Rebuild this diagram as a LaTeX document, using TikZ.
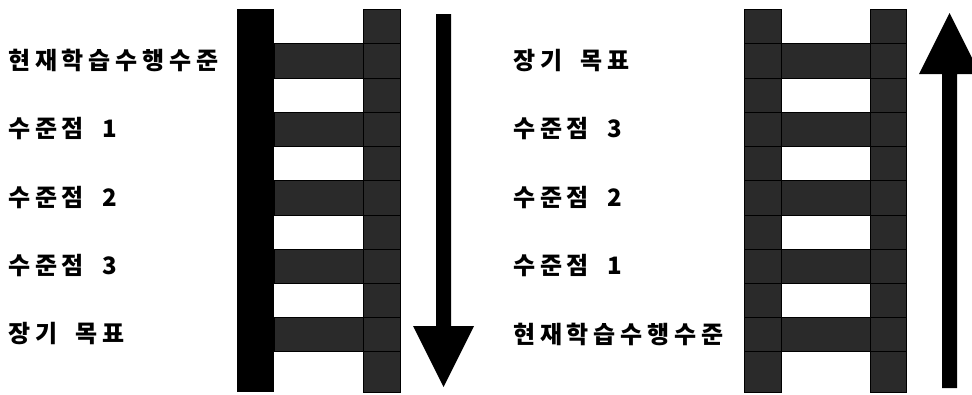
\documentclass[tikz,border=0pt]{standalone}
\usepackage{fontspec}
\newfontfamily\kr{Noto Sans CJK KR}[LetterSpace=20,WordSpace=1.8]
\definecolor{rail}{HTML}{2A2A2A}
\begin{document}
\begin{tikzpicture}[x=1pt,y=-1pt,
  cell/.style={fill=rail,draw=black,line width=0.7pt},
  lbl/.style={anchor=west,inner sep=0pt,font=\kr\bfseries\fontsize{24}{24}\selectfont}]
\useasboundingbox (0,0) rectangle (972,394);
\begin{scope}
\clip (0,0) rectangle (972,394);
% left ladder
\fill[black] (237,9) rectangle (274,392);
\foreach \a/\b in {9/43,43/78,78/112,112/146,146/180,180/215,215/249,249/283,283/317,317/351,351/392}
  \draw[cell] (363,\a) rectangle (400,\b);
\foreach \a/\b in {43/78,112/146,180/215,249/283,317/351}
  \draw[cell] (274,\a) rectangle (363,\b);
% right ladder
\foreach \a/\b in {9/43,43/78,78/112,112/146,146/180,180/215,215/249,249/283,283/317,317/351,351/392}{
  \draw[cell] (744,\a) rectangle (781,\b);
  \draw[cell] (870,\a) rectangle (906,\b);}
\foreach \a/\b in {43/78,112/146,180/215,249/283,317/351}
  \draw[cell] (781,\a) rectangle (870,\b);
% arrows
\fill[black] (436,14) -- (451,14) -- (451,326) -- (474,326) -- (443.5,387) -- (413,326) -- (436,326) -- cycle;
\fill[black] (942,388) -- (957,388) -- (957,74) -- (980,74) -- (949.5,13) -- (919,74) -- (942,74) -- cycle;
\end{scope}
% labels left
\node[lbl] (a1) at (8,60.5) {현재학습수행수준};
\node[lbl] (a2) at (8,129) {수준점 1};
\node[lbl] (a3) at (8,197.5) {수준점 2};
\node[lbl] (a4) at (8,266) {수준점 3};
\node[lbl] (a5) at (8,334) {장기 목표};
% labels right
\node[lbl] (b1) at (513,60.5) {장기 목표};
\node[lbl] (b2) at (513,129) {수준점 3};
\node[lbl] (b3) at (513,197.5) {수준점 2};
\node[lbl] (b4) at (513,266) {수준점 1};
\node[lbl] (b5) at (513,334) {현재학습수행수준};
\end{tikzpicture}
\end{document}
